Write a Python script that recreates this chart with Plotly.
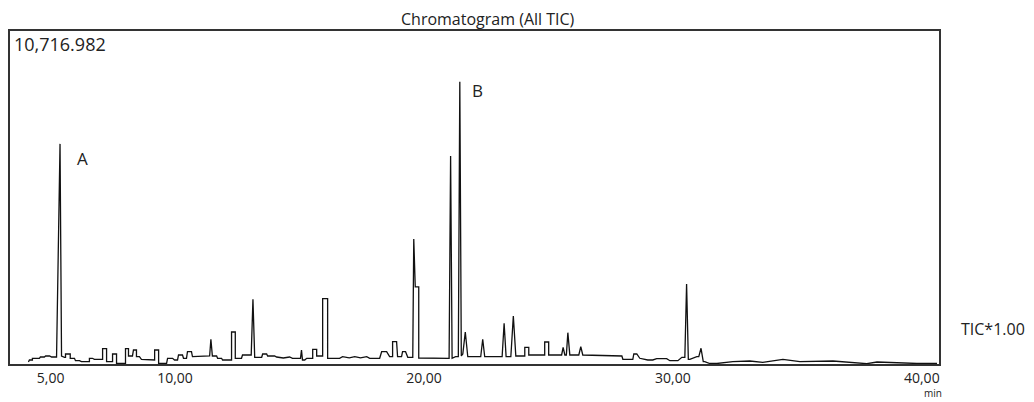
import plotly.graph_objects as go

# Retention time (min) and intensity (counts)
time_min = [
    4.11, 4.15, 4.27, 4.27, 4.55, 4.59, 4.75, 4.80, 4.96, 5.04, 5.16, 5.24,
    5.38, 5.44, 5.56, 5.60, 5.60, 5.79, 5.79, 5.84, 5.96, 6.00, 6.16, 6.24,
    6.56, 6.56, 6.68, 6.76, 7.09, 7.09, 7.25, 7.25, 7.49, 7.49, 7.65, 7.65,
    8.01, 8.01, 8.13, 8.13, 8.29, 8.33, 8.45, 8.45, 8.57, 8.65, 8.86, 8.90,
    9.18, 9.18, 9.34, 9.34, 9.66, 9.70, 9.90, 9.98, 10.10, 10.14, 10.30, 10.34,
    10.46, 10.50, 10.66, 10.70, 10.99, 11.07, 11.39, 11.44, 11.50, 11.67, 11.71,
    11.87, 11.91, 12.27, 12.27, 12.42, 12.42, 12.67, 12.71, 13.06, 13.13, 13.20,
    13.48, 13.52, 13.68, 13.72, 14.00, 14.08, 14.35, 14.60, 14.72, 15.04, 15.08,
    15.12, 15.21, 15.29, 15.53, 15.53, 15.69, 15.69, 15.93, 15.93, 16.13, 16.13,
    16.61, 16.73, 17.00, 17.22, 17.45, 17.70, 17.82, 18.22, 18.30, 18.50, 18.62,
    18.74, 18.74, 18.90, 18.94, 19.10, 19.14, 19.26, 19.35, 19.55, 19.59, 19.65,
    19.79, 19.79, 20.35, 20.51, 20.91, 21.01, 21.07, 21.13, 21.27, 21.38, 21.44,
    21.50, 21.56, 21.66, 21.76, 22.28, 22.36, 22.44, 23.14, 23.22, 23.30, 23.49,
    23.59, 23.69, 24.05, 24.05, 24.21, 24.21, 24.85, 24.85, 25.01, 25.01, 25.53,
    25.59, 25.66, 25.72, 25.78, 25.86, 26.22, 26.30, 26.38, 27.95, 27.99, 28.39,
    28.43, 28.55, 28.67, 28.99, 29.19, 29.35, 29.75, 29.88, 30.20, 30.36, 30.48,
    30.55, 30.62, 30.68, 30.96, 31.04, 31.13, 31.22, 31.28, 31.48, 31.77, 32.41,
    33.09, 33.61, 34.42, 35.10, 36.43, 37.11, 37.79, 38.20, 39.12, 39.80, 40.61,
]
intensity = [
    64, 129, 129, 184, 184, 225, 225, 258, 258, 225, 225, 225,
    7084, 258, 216, 216, 322, 322, 184, 184, 184, 106, 106, 74,
    74, 184, 184, 151, 151, 493, 493, 74, 74, 322, 322, 23,
    23, 493, 493, 258, 258, 451, 451, 235, 235, 151, 151, 129,
    129, 451, 451, 23, 23, 184, 184, 129, 129, 290, 290, 184,
    184, 396, 396, 235, 235, 258, 258, 795, 258, 258, 184,
    184, 129, 129, 1030, 1030, 184, 184, 290, 290, 2083, 216,
    216, 322, 322, 258, 258, 225, 193, 225, 184, 184, 451,
    129, 129, 184, 184, 473, 473, 258, 258, 2103, 2103, 184,
    184, 235, 200, 235, 200, 235, 184, 184, 396, 396, 235,
    235, 718, 718, 235, 235, 396, 396, 216, 216, 4025, 2479,
    2479, 193, 193, 184, 184, 184, 6698, 184, 235, 235, 9080,
    258, 322, 1030, 235, 235, 795, 235, 235, 1311, 235, 235,
    1546, 258, 258, 538, 538, 290, 290, 708, 708, 290, 290,
    538, 290, 290, 1008, 290, 290, 557, 290, 258, 151, 151,
    322, 322, 184, 129, 129, 171, 171, 106, 106, 216, 216,
    2576, 151, 151, 235, 235, 506, 74, 74, 16, 16, 74,
    97, 55, 151, 74, 97, 55, 10, 64, 32, 16, 16,
]

y_max = 10716.982
x_range = [3.37, 40.69]
tick_values = [5, 10, 20, 30, 40]
tick_labels = ["5,00", "10,00", "20,00", "30,00", "40,00"]

peak_labels = ["A", "B"]
peak_label_time = [6.28, 22.16]
peak_label_int = [6600, 8790]

FONT = "Open Sans"
INK = "#222222"

fig = go.Figure()
fig.add_trace(go.Scatter(
    x=time_min, y=intensity, mode="lines",
    line=dict(color="#111111", width=1.3),
    hoverinfo="x+y", showlegend=False,
))

for lab, tx, ty in zip(peak_labels, peak_label_time, peak_label_int):
    fig.add_annotation(x=tx, y=ty, text=lab, showarrow=False,
                       font=dict(family=FONT, size=17, color=INK),
                       xanchor="center", yanchor="middle")

fig.add_annotation(xref="paper", yref="paper", x=0.002, y=0.962,
                   text=f"{y_max:,.3f}", showarrow=False,
                   xanchor="left", yanchor="middle",
                   font=dict(family=FONT, size=18, color=INK))
fig.add_annotation(xref="paper", yref="paper", x=0.5145, y=1.036,
                   text="Chromatogram (All TIC)", showarrow=False,
                   xanchor="center", yanchor="middle",
                   font=dict(family=FONT, size=16, color=INK))
fig.add_annotation(xref="paper", yref="paper", x=1.022, y=0.105,
                   text="TIC*1.00", showarrow=False,
                   xanchor="left", yanchor="middle",
                   font=dict(family=FONT, size=16, color=INK))
fig.add_annotation(xref="paper", yref="paper", x=1.004, y=-0.1126,
                   text="min", showarrow=False, borderpad=0,
                   xanchor="right", yanchor="bottom",
                   font=dict(family=FONT, size=10, color=INK))

# the page body adds an 8 px offset; margins compensate so the frame sits at
# x 10..939, y 31..364 in the 1034x402 window
fig.update_layout(
    width=1026, height=394,
    margin=dict(l=2, r=95, t=23, b=38),
    paper_bgcolor="white", plot_bgcolor="white",
    font=dict(family=FONT, color=INK),
)
fig.update_xaxes(
    range=x_range, tickvals=tick_values, ticktext=tick_labels,
    showgrid=False, zeroline=False, ticks="", ticklabelstandoff=0,
    showline=True, mirror=True, linecolor="#333333", linewidth=1.5,
    tickfont=dict(family=FONT, size=14, color=INK),
)
fig.update_yaxes(
    range=[0, y_max], showticklabels=False, showgrid=False, zeroline=False,
    ticks="", showline=True, mirror=True, linecolor="#333333", linewidth=1.5,
)

fig.write_html("out.html")
